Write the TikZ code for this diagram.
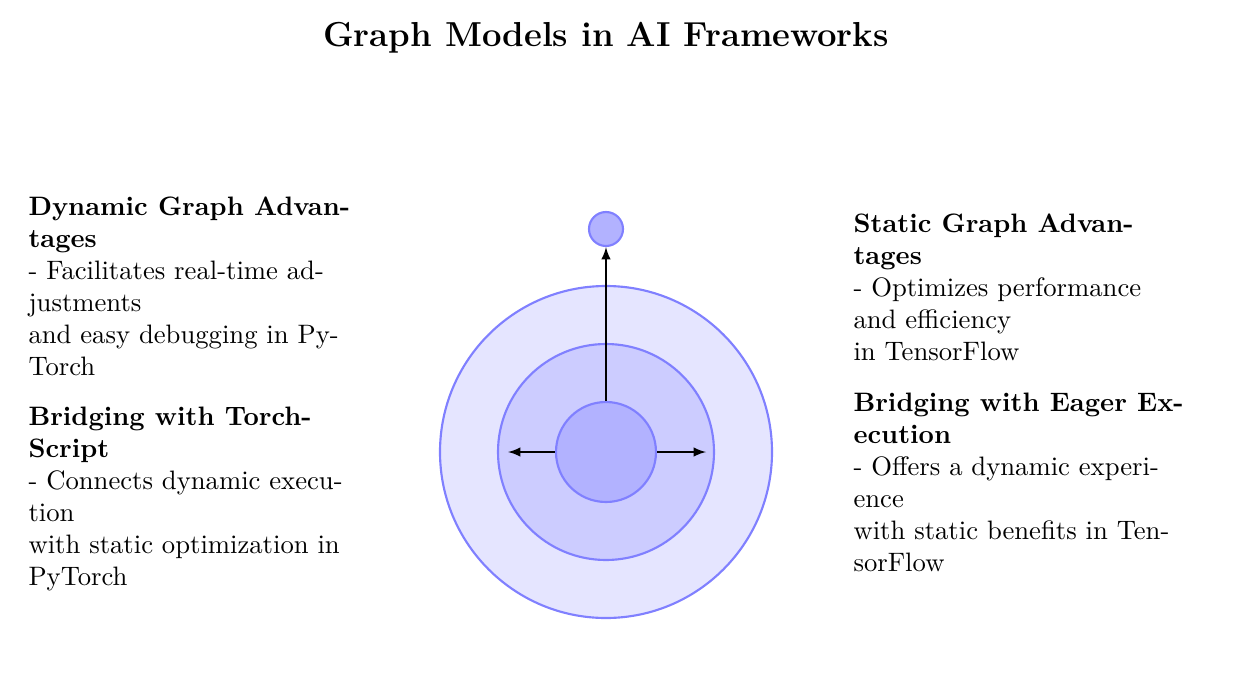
\documentclass[tikz,border=0pt]{standalone}
\usepackage{tikz}
\tikzset{
ring/.style={circle,draw=blue!50,thick,inner sep=0pt},
info/.style={anchor=north west,inner sep=0pt,font=\normalsize,align=left},
arr/.style={->,>=latex,semithick,black}
}
\begin{document}
\begin{tikzpicture}[x=0.375pt,y=-0.375pt]
\useasboundingbox (0,0) rectangle (1236,672);
\node (title) at (606,38) {\fontsize{13}{16}\selectfont\bfseries Graph Models in AI Frameworks};
% the rings
\node[ring,fill=blue!10,minimum size=332*0.375pt] (outer) at (606,452) {};
\node[ring,fill=blue!20,minimum size=216*0.375pt] (middle) at (606,452) {};
\node[ring,fill=blue!30,minimum size=100*0.375pt] (core) at (606,452) {};
\node[ring,fill=blue!30,minimum size=34*0.375pt] (top) at (606,229) {};
\coordinate (lend) at (508,452);
\coordinate (rend) at (706,452);
% the arrows
\draw[arr] (core.north) -- (top.south);
\draw[arr] (core.west) -- (lend);
\draw[arr] (core.east) -- (rend);
% the texts
\node[info] (dyn) at (28,196) {\textbf{Dynamic Graph Advan-}\\\textbf{tages}\\- Facilitates real-time ad-\\justments\\and easy debugging in Py-\\Torch};
\node[info] (ts) at (28,406) {\textbf{Bridging with Torch-}\\\textbf{Script}\\- Connects dynamic execu-\\tion\\with static optimization in\\PyTorch};
\node[info] (stat) at (853,213) {\textbf{Static Graph Advan-}\\\textbf{tages}\\- Optimizes performance\\and efficiency\\in TensorFlow};
\node[info] (eag) at (853,392) {\textbf{Bridging with Eager Ex-}\\\textbf{ecution}\\- Offers a dynamic experi-\\ence\\with static benefits in Ten-\\sorFlow};
\end{tikzpicture}
\end{document}
